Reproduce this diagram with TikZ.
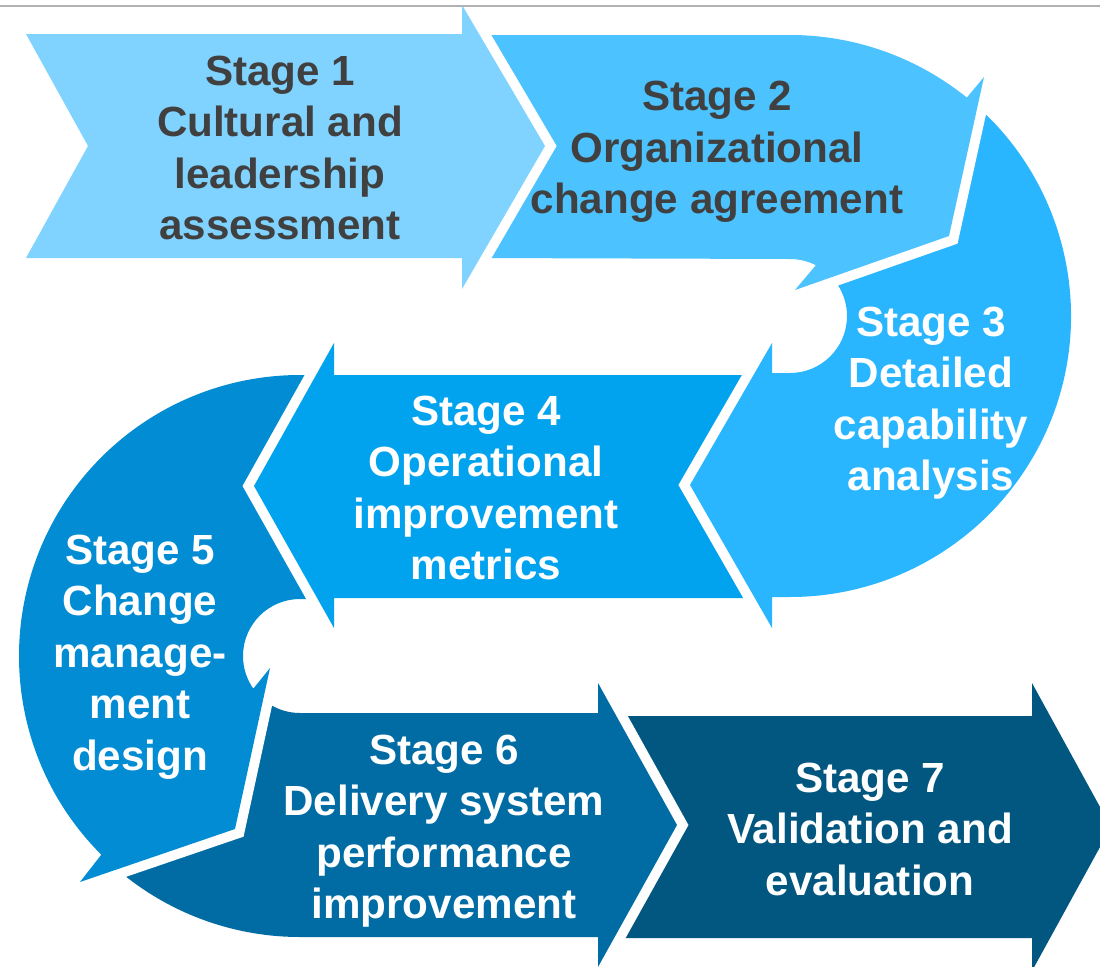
\documentclass[tikz,border=0pt]{standalone}
\usepackage{fontspec}
\setsansfont{Liberation Sans}
\usetikzlibrary{calc}

\definecolor{stageA}{HTML}{80D2FF}
\definecolor{stageB}{HTML}{4CC2FF}
\definecolor{stageC}{HTML}{29B6FF}
\definecolor{stageD}{HTML}{02A3EE}
\definecolor{stageE}{HTML}{028CD3}
\definecolor{stageF}{HTML}{016CA4}
\definecolor{stageG}{HTML}{025781}

\begin{document}
\begin{tikzpicture}[
  x=0.02cm, y=-0.02cm,
  stage/.style={preaction={draw=white, line width=0.4cm, miter limit=2}},
  stagetext/.style={
    font=\sffamily\bfseries\fontsize{24}{29.3}\selectfont,
    align=center, inner sep=0pt, text=white
  },
  darktext/.style={stagetext, text=black!75}
]
  \path[use as bounding box, clip] (0,0) rectangle (1100,967);

  % centres of the two curved stages
  \coordinate (ca) at (790,316);
  \coordinate (cb) at (300,656);

  % Stage 7 (bottom right)
  \path[stage, fill=stageG] (606,716) -- (1032,716) -- (1032,683) -- (1111,827)
    -- (1032,971) -- (1032,938) -- (606,938) -- cycle;

  % Stage 6
  \path[stage, fill=stageF] ($(cb)+(140:57)$) arc[start angle=140, end angle=90, radius=57]
    -- (598,713) -- (598,683) -- (677,825) -- (598,967) -- (598,937)
    -- (300,937) arc[start angle=90, end angle=140, radius=281] -- cycle;

  % Stage 5 (left curve)
  \path[stage, fill=stageE] (300,375) -- (345,375) -- (345,599)
    -- (300,599) arc[start angle=-90, end angle=-215, radius=57]
    -- (270,668) -- (235,829) -- (80,882)
    -- ($(cb)+(-225:281)$) arc[start angle=-225, end angle=-90, radius=281] -- cycle;

  % Stage 4
  \path[stage, fill=stageD] (770,375) -- (334,375) -- (334,343) -- (254,486)
    -- (334,628) -- (334,598) -- (770,598) -- cycle;

  % Stage 3 (right curve)
  \path[stage, fill=stageC] ($(ca)+(-60:281)$) arc[start angle=-60, end angle=90, radius=281]
    -- (772,597) -- (772,628) -- (690,485) -- (772,343) -- (772,373)
    -- (790,373) arc[start angle=90, end angle=-60, radius=57] -- cycle;

  % Stage 2
  \path[stage, fill=stageB] (475,35) -- (790,35) arc[start angle=-90, end angle=-51, radius=281]
    -- (984,77) -- (949,236) -- (795,290)
    -- ($(ca)+(-63:57)$) arc[start angle=-63, end angle=-90, radius=57]
    -- (475,258) -- (540,146) -- cycle;

  % Stage 1 (top left)
  \path[stage, fill=stageA] (26,34) -- (462,34) -- (462,5) -- (545,146)
    -- (462,289) -- (462,258) -- (26,258) -- (88,146) -- cycle;

  % labels
  \node[darktext] (t1) at (280,148) {Stage 1\\Cultural and\\leadership\\assessment};
  \node[darktext] (t2) at (717,152) {Stage 2\\Organizational\\change agreement};
  \node[stagetext] (t3) at (931,403) {Stage 3\\Detailed\\capability\\analysis};
  \node[stagetext] (t4) at (486,488) {Stage 4\\Operational\\improvement\\metrics};
  \node[stagetext] (t5) at (140,657) {Stage 5\\Change\\manage-\\ment\\design};
  \node[stagetext] (t6) at (444,831) {Stage 6\\Delivery system\\performance\\improvement};
  \node[stagetext] (t7) at (870,829) {Stage 7\\Validation and\\evaluation};

  % rule along the top
  \draw[line width=0.04cm, black!30] (0,6) -- (1100,6);
\end{tikzpicture}
\end{document}
